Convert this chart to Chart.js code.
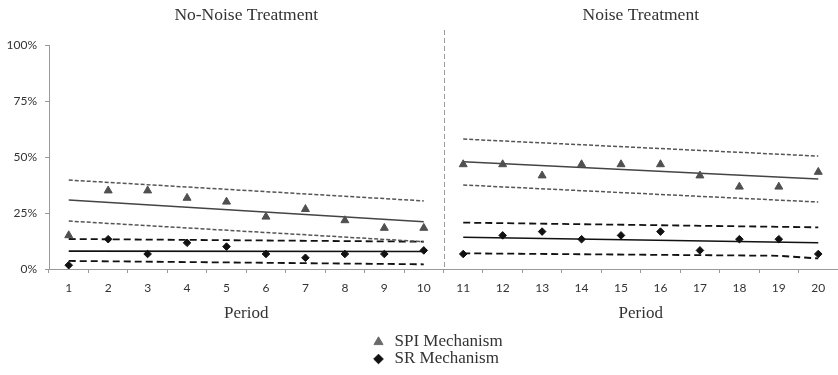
<!DOCTYPE html>
<html>
<head>
<meta charset="utf-8">
<script src="https://cdn.jsdelivr.net/npm/chart.js@4.4.1/dist/chart.umd.min.js"></script>
<style>
  html, body { margin: 0; padding: 0; background: #fff; }
  #wrap { width: 838px; height: 375px; position: relative; }
</style>
</head>
<body>
<div id="wrap"><canvas id="c" width="838" height="375"></canvas></div>
<script>
// Periods 1-10: no-noise treatment, 11-20: noise treatment
const periods = ['1','2','3','4','5','6','7','8','9','10','11','12','13','14','15','16','17','18','19','20'];
const yTicks = [0, 25, 50, 75, 100];
const panelTitles = ['No-Noise Treatment', 'Noise Treatment'];
const seriesNames = ['SPI Mechanism', 'SR Mechanism'];

// Share per period (%)
const spiShare = [15, 35, 35, 31.7, 30, 23.3, 26.7, 21.7, 18.3, 18.3,
                  46.7, 46.7, 41.7, 46.7, 46.7, 46.7, 41.7, 36.7, 36.7, 43.3];
const srShare  = [1.7, 13.3, 6.7, 11.7, 10, 6.7, 5, 6.7, 6.7, 8.3,
                  6.7, 15, 16.7, 13.3, 15, 16.7, 8.3, 13.3, 13.3, 6.7];

// Linear trends with upper / lower bands, as [period, value] pairs
const spiFitNoNoise   = [[1, 30.8], [10, 21.1]];
const spiUpperNoNoise = [[1, 39.7], [10, 30.4]];
const spiLowerNoNoise = [[1, 21.4], [10, 12.2]];
const srFitNoNoise    = [[1, 8.0], [10, 7.8]];
const srUpperNoNoise  = [[1, 13.4], [10, 12.2]];
const srLowerNoNoise  = [[1, 3.6], [10, 2.1]];
const spiFitNoise     = [[11, 47.9], [20, 40.2]];
const spiUpperNoise   = [[11, 58.0], [20, 50.4]];
const spiLowerNoise   = [[11, 37.5], [20, 29.9]];
const srFitNoise      = [[11, 14.2], [20, 11.7]];
const srUpperNoise    = [[11, 20.7], [20, 18.6]];
const srLowerNoise    = [[11, 7.0], [19, 5.9], [20, 4.7]];

const SPI_COLOR = '#505050';
const SR_COLOR = '#111111';
const SERIF = '"Liberation Serif", "Times New Roman", serif';
const SANS = 'Lato, "Liberation Sans", sans-serif';

const toXY = pairs => pairs.map(([p, v]) => ({ x: String(p), y: v }));

function trend(pairs, color, width, dash) {
  return {
    type: 'line', data: toXY(pairs), borderColor: color, borderWidth: width,
    borderDash: dash, pointRadius: 0, fill: false, spanGaps: true
  };
}

const datasets = [
  { label: seriesNames[0], data: spiShare, showLine: false, pointStyle: 'triangle',
    pointRadius: 4.6, backgroundColor: SPI_COLOR, borderColor: SPI_COLOR, borderWidth: 1 },
  { label: seriesNames[1], data: srShare, showLine: false, pointStyle: 'rectRot',
    pointRadius: 3.8, backgroundColor: SR_COLOR, borderColor: SR_COLOR, borderWidth: 1 },
  trend(spiFitNoNoise, '#444', 1.5, []),
  trend(spiUpperNoNoise, '#555', 1.5, [4, 2]),
  trend(spiLowerNoNoise, '#555', 1.5, [4, 2]),
  trend(srFitNoNoise, SR_COLOR, 1.6, []),
  trend(srUpperNoNoise, SR_COLOR, 1.8, [7, 4]),
  trend(srLowerNoNoise, SR_COLOR, 1.8, [7, 4]),
  trend(spiFitNoise, '#444', 1.5, []),
  trend(spiUpperNoise, '#555', 1.5, [4, 2]),
  trend(spiLowerNoise, '#555', 1.5, [4, 2]),
  trend(srFitNoise, SR_COLOR, 1.6, []),
  trend(srUpperNoise, SR_COLOR, 1.8, [7, 4]),
  trend(srLowerNoise, SR_COLOR, 1.8, [7, 4])
];

// Panel titles, axis captions, divider and legend
const decorations = {
  id: 'decorations',
  afterDraw(chart) {
    const { ctx, chartArea } = chart;
    const x = chart.scales.x;
    const leftMid = (x.getPixelForValue(0) + x.getPixelForValue(9)) / 2;
    const rightMid = (x.getPixelForValue(10) + x.getPixelForValue(19)) / 2;
    const divider = (x.getPixelForValue(9) + x.getPixelForValue(10)) / 2;
    ctx.save();

    ctx.strokeStyle = '#9a9a9a';
    ctx.lineWidth = 1;
    ctx.setLineDash([5, 3]);
    ctx.beginPath();
    ctx.moveTo(Math.round(divider) + 0.5, 30);
    ctx.lineTo(Math.round(divider) + 0.5, chartArea.bottom);
    ctx.stroke();
    ctx.setLineDash([]);

    ctx.fillStyle = '#333';
    ctx.textAlign = 'center';
    ctx.textBaseline = 'middle';
    ctx.font = '17.5px ' + SERIF;
    ctx.fillText(panelTitles[0], leftMid, 15);
    ctx.fillText(panelTitles[1], rightMid, 15);
    ctx.font = '17px ' + SERIF;
    ctx.fillText('Period', leftMid, 314);
    ctx.fillText('Period', rightMid, 314);

    const cx = (chartArea.left + chartArea.right) / 2;
    const markerX = cx - 65;
    const rows = [342, 359];
    ctx.font = '17px ' + SERIF;
    ctx.textAlign = 'left';
    rows.forEach((ry, i) => {
      const ds = chart.data.datasets[i];
      ctx.fillStyle = i === 0 ? '#6a6a6a' : ds.backgroundColor;
      ctx.strokeStyle = i === 0 ? '#6a6a6a' : ds.borderColor;
      ctx.lineWidth = 1;
      Chart.helpers.drawPoint(ctx, { pointStyle: ds.pointStyle, radius: i === 0 ? 5.2 : 4.8, borderWidth: 1 }, markerX, ry);
      ctx.fillStyle = '#333';
      ctx.fillText(ds.label, markerX + 16, ry);
    });
    ctx.restore();
  }
};

new Chart(document.getElementById('c'), {
  type: 'line',
  data: { labels: periods, datasets },
  plugins: [decorations],
  options: {
    responsive: false,
    animation: false,
    events: [],
    layout: { autoPadding: false, padding: { top: 45, right: 0, bottom: 0, left: 0 } },
    plugins: { legend: { display: false }, tooltip: { enabled: false } },
    scales: {
      x: {
        type: 'category',
        offset: true,
        grid: { offset: true, drawOnChartArea: false, drawTicks: true, tickLength: 4, color: '#999' },
        border: { color: '#999', width: 1 },
        ticks: { color: '#333', font: { family: SANS, size: 12 }, padding: 8, maxRotation: 0, autoSkip: false },
        afterFit(scale) { scale.height = 106; scale.paddingLeft = 0; scale.paddingRight = 0; }
      },
      y: {
        min: 0, max: 100,
        afterBuildTicks(scale) { scale.ticks = yTicks.map(v => ({ value: v })); },
        grid: { drawOnChartArea: false, drawTicks: true, tickLength: 4, color: '#999' },
        border: { color: '#999', width: 1 },
        ticks: { color: '#333', font: { family: SANS, size: 12 }, padding: 8, callback: v => v + '%' },
        afterFit(scale) { scale.width = 49; }
      }
    }
  }
});
</script>
</body>
</html>
